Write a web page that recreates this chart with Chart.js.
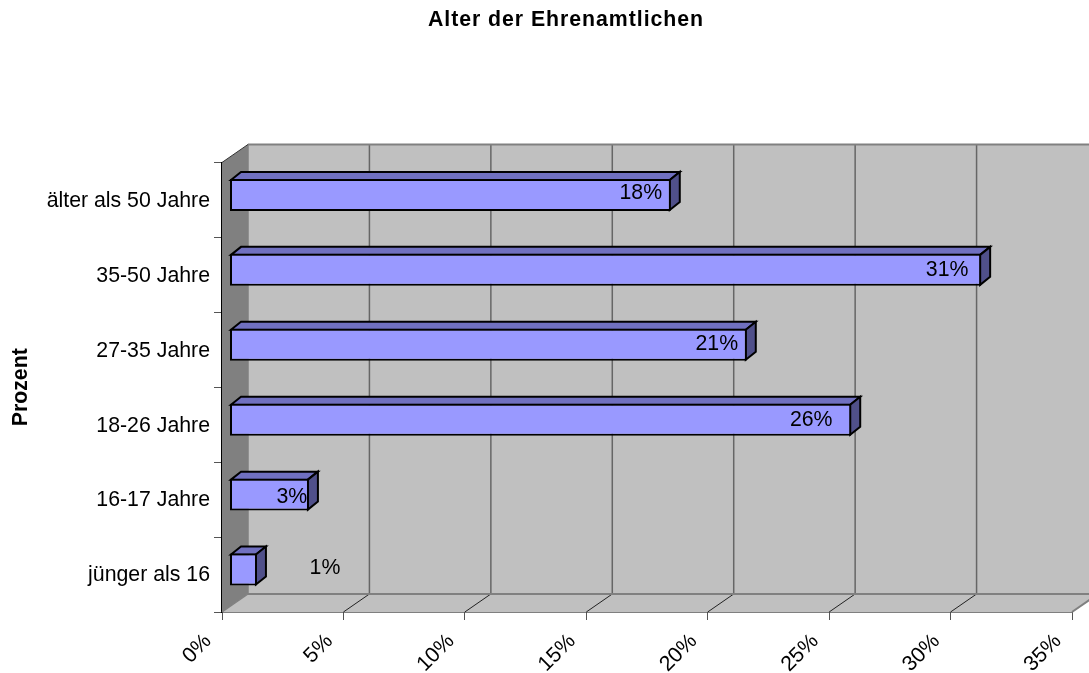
<!DOCTYPE html>
<html><head><meta charset="utf-8">
<style>html,body{margin:0;padding:0;background:#fff}#w{width:1089px;height:673px;position:relative}</style>
<script src="https://cdn.jsdelivr.net/npm/chart.js@4"></script>
</head><body><div id="w"><canvas id="c" width="1089" height="673"></canvas></div>
<script>
const titleText = "Alter der Ehrenamtlichen";
const axisTitle = "Prozent";
const categories = ["älter als 50 Jahre","35-50 Jahre","27-35 Jahre","18-26 Jahre","16-17 Jahre","jünger als 16"];
const values = [18.17,30.95,21.3,25.6,3.27,1.13];
const valueLabels = ["18%","31%","21%","26%","3%","1%"];
const labelShiftX = [-30,-34,-30,-40,-17,68];
const labelShiftY = [-2,0,-1,0,3,-1];
const tickMax = 35, tickStep = 5;

const WALL="#C0C0C0", SIDE="#808080", EDGE="#808080", GRID="#666666";
const DX=26, DY=-18;          // depth of the box
const BX=7.5, BY=-5;          // bars sit inside the depth
const FX=10, FY=-8;           // depth of the bars
const FONT="Liberation Sans", FS=21.3;
const poly=(ctx,pts,fill,stroke,lw)=>{ctx.beginPath();pts.forEach((p,i)=>i?ctx.lineTo(p[0],p[1]):ctx.moveTo(p[0],p[1]));ctx.closePath();
  if(fill){ctx.fillStyle=fill;ctx.fill();} if(stroke){ctx.strokeStyle=stroke;ctx.lineWidth=lw;ctx.lineJoin="miter";ctx.stroke();}};
const seg=(ctx,a,b,c,d,col,lw)=>{ctx.beginPath();ctx.moveTo(a,b);ctx.lineTo(c,d);ctx.strokeStyle=col;ctx.lineWidth=lw;ctx.stroke();};

const box3d={id:"box3d",
  afterLayout(chart){
    const t=chart.titleBlock; t.left=60;
    if(!t._spaced){t._spaced=true;const d=t.draw;
      t.draw=function(a){const c=this.ctx;c.letterSpacing="0.95px";d.call(this,a);c.letterSpacing="0px";};}
  },
  beforeDatasetsDraw(chart){
    const {ctx,chartArea:a,scales:{x}}=chart; ctx.save();
    const W=a.right+DX;
    ctx.fillStyle=WALL; ctx.fillRect(a.left+DX,a.top+DY,W-a.left-DX,a.bottom-a.top);
    poly(ctx,[[a.left,a.top],[a.left+DX,a.top+DY],[a.left+DX,a.bottom+DY],[a.left,a.bottom]],SIDE);
    poly(ctx,[[a.left,a.bottom],[a.left+DX,a.bottom+DY],[W,a.bottom+DY],[a.right,a.bottom]],WALL);
    x.ticks.forEach(t=>{const px=x.getPixelForValue(t.value);
      if(t.value>0&&t.value<tickMax){seg(ctx,px+DX,a.top+DY,px+DX,a.bottom+DY,GRID,1.5);
      seg(ctx,px,a.bottom,px+DX,a.bottom+DY,"#222",1);}});
    seg(ctx,a.left+DX,a.top+DY,W,a.top+DY,EDGE,2);
    seg(ctx,a.left+DX,a.bottom+DY,W,a.bottom+DY,EDGE,2);
    seg(ctx,a.left+DX,a.top+DY,a.left+DX,a.bottom+DY,EDGE,1.5);
    seg(ctx,a.left,a.bottom,a.left+DX,a.bottom+DY,EDGE,1.5);
    seg(ctx,a.right,a.bottom,W,a.bottom+DY,EDGE,2);
    seg(ctx,a.left,a.top,a.left+DX,a.top+DY,"#333",1);
    ctx.restore();
    ctx.save(); ctx.translate(BX,BY);
    chart.getDatasetMeta(0).data.forEach(b=>{
      const l=b.base+1,r=b.x-1,t=b.y-b.height/2+1,bm=b.y+b.height/2-1;
      poly(ctx,[[l,t],[l+FX,t+FY],[r+FX,t+FY],[r,t]],"#7070C0","#000",2);
      poly(ctx,[[r,t],[r+FX,t+FY],[r+FX,bm+FY],[r,bm]],"#50508A","#000",2);
    });
    ctx.restore();
    ctx.save(); ctx.translate(BX,BY);
  },
  afterDatasetsDraw(chart){
    const ctx=chart.ctx; ctx.restore(); ctx.save();
    ctx.font=FS+'px "'+FONT+'"'; ctx.fillStyle="#000"; ctx.textAlign="center"; ctx.textBaseline="middle";
    chart.getDatasetMeta(0).data.forEach((b,i)=>{
      ctx.fillText(valueLabels[i],b.x+BX+labelShiftX[i],b.y+BY+labelShiftY[i]);
    });
    ctx.restore();
  }
};

new Chart(document.getElementById("c"),{
  type:"bar",
  data:{labels:categories,datasets:[{data:values,backgroundColor:"#9999FF",borderColor:"#000",borderWidth:2,
    borderSkipped:false,categoryPercentage:0.4267,barPercentage:1}]},
  plugins:[box3d],
  options:{
    indexAxis:"y",responsive:false,animation:false,
    layout:{padding:{left:0,right:17,top:0,bottom:0}},
    plugins:{legend:{display:false},tooltip:{enabled:false},
      title:{display:true,text:titleText,color:"#000",font:{family:FONT,size:FS,weight:"bold"},
        padding:{top:7,bottom:129.9}}},
    scales:{
      x:{type:"linear",min:0,max:tickMax,
        afterFit(s){s.height=61;s.paddingRight=0;s.paddingLeft=0;},
        ticks:{stepSize:tickStep,callback:v=>v+"%",maxRotation:45,minRotation:45,color:"#000",padding:9,labelOffset:-14,
          font:{family:FONT,size:FS}},
        grid:{drawOnChartArea:false,tickLength:8,tickColor:"#555",tickWidth:1},
        border:{color:"#000",width:1.5}},
      y:{type:"category",
        afterFit(s){s.width=222;},
        title:{display:true,text:axisTitle,color:"#000",font:{family:FONT,size:FS,weight:"bold"},padding:{top:8,bottom:0}},
        ticks:{color:"#000",padding:4,autoSkip:false,labelOffset:1,font:{family:FONT,size:FS}},
        grid:{drawOnChartArea:false,tickLength:8,tickColor:"#555",tickWidth:1},
        border:{color:"#000",width:1.5}}
    }
  }
});
</script></body></html>
